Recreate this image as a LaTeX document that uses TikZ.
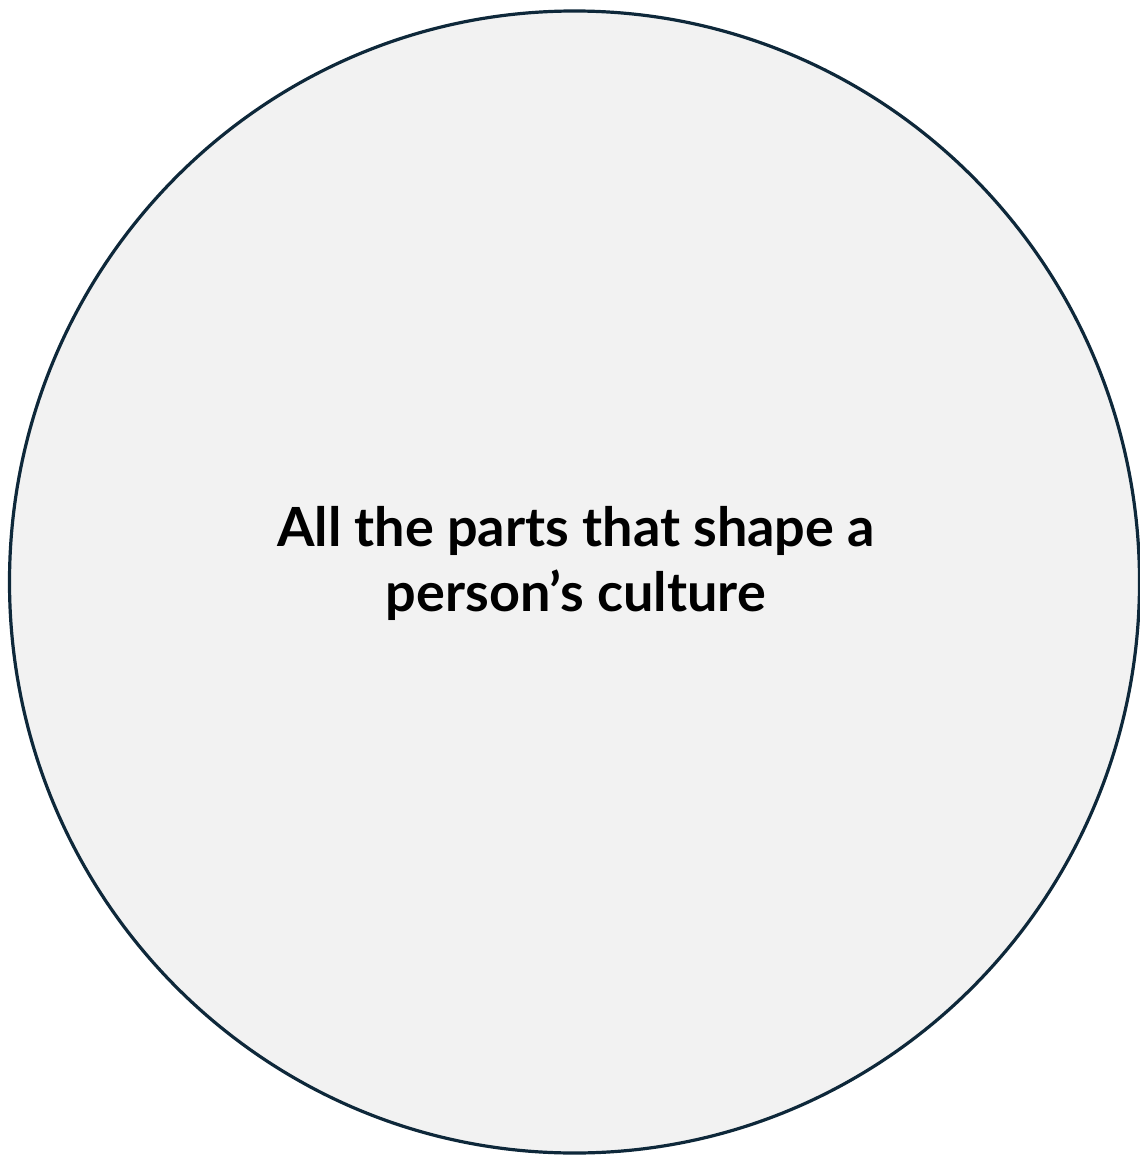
\documentclass[tikz,border=0pt]{standalone}
\usepackage{fontspec}
\setmainfont{Lato}
\usetikzlibrary{positioning,shapes.geometric}
\definecolor{rimnavy}{RGB}{14,40,58}
\definecolor{softgray}{RGB}{242,242,242}

\begin{document}
\begin{tikzpicture}[x=0.5pt, y=-0.5pt, every node/.style={align=center}]
\useasboundingbox (0,0) rectangle (1139,1155);
\node[draw=rimnavy, line width=1.6pt, fill=softgray, ellipse, minimum width=565pt, minimum height=571pt, inner sep=0pt] (culture) at (574.5,582) {};
\node[font=\bfseries\fontsize{27}{32.5}\selectfont] (label) at (576,563) {All the parts that shape a\\person’s culture};
\end{tikzpicture}
\end{document}
